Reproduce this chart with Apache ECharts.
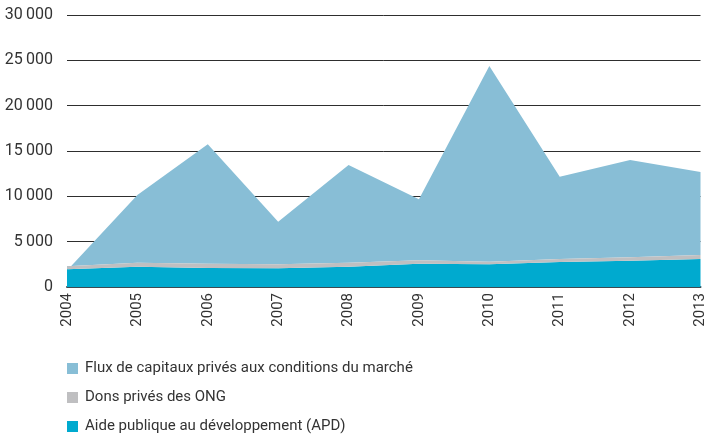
<!DOCTYPE html>
<html>
<head>
<meta charset="utf-8">
<script src="https://cdn.jsdelivr.net/npm/echarts@6/dist/echarts.min.js"></script>
<style>
  html, body { margin: 0; padding: 0; background: #ffffff; }
  #chart { width: 708px; height: 436px; }
</style>
</head>
<body>
<div id="chart"></div>
<script>
const years = ["2004", "2005", "2006", "2007", "2008", "2009", "2010", "2011", "2012", "2013"];
const apd = [1950, 2240, 2100, 2060, 2240, 2570, 2500, 2760, 2900, 3090];
const ong = [330, 440, 470, 440, 440, 370, 290, 330, 370, 440];
const flux = [-450, 7470, 13170, 4700, 10780, 6730, 21590, 9080, 10740, 9160];
const yTicks = [0, 5000, 10000, 15000, 20000, 25000, 30000];

const seriesNames = [
  "Aide publique au développement (APD)",
  "Dons privés des ONG",
  "Flux de capitaux privés aux conditions du marché"
];
const colors = ["#00aacf", "#bfbfc1", "#88bed6"];
const font = "Roboto, 'Open Sans', sans-serif";

function fmt(v) {
  const s = String(v);
  return s.length > 3 ? s.slice(0, -3) + "\u2009" + s.slice(-3) : s;
}

const chart = echarts.init(document.getElementById("chart"));

function area(name, data, color, z) {
  return {
    name,
    type: "line",
    stack: "total",
    stackStrategy: "all",
    data,
    symbol: "none",
    lineStyle: { width: 0 },
    areaStyle: { color, opacity: 1 },
    itemStyle: { color },
    z
  };
}

// one legend per row so they stack like the original
function legendRow(name, top) {
  return {
    orient: "vertical",
    left: 62,
    top,
    itemWidth: 11,
    itemHeight: 11,
    icon: "rect",
    data: [name],
    textStyle: { fontFamily: font, fontSize: 15, color: "#333333", padding: [0, 0, 0, 2] }
  };
}

chart.setOption({
  animation: false,
  backgroundColor: "#ffffff",
  grid: { left: 67, right: 6, top: 15, bottom: 149 },
  legend: [
    legendRow(seriesNames[2], 356),
    legendRow(seriesNames[1], 385),
    legendRow(seriesNames[0], 414)
  ],
  xAxis: {
    type: "category",
    data: years,
    boundaryGap: false,
    axisLine: { lineStyle: { color: "#3c4a52", width: 2 } },
    axisTick: { show: false },
    axisLabel: {
      rotate: 90,
      margin: 6,
      fontFamily: font,
      fontSize: 15,
      color: "#333333",
      interval: 0
    }
  },
  yAxis: {
    type: "value",
    min: 0,
    max: 30000,
    interval: 5000,
    axisLine: { show: false },
    axisTick: { show: false },
    axisLabel: {
      margin: 14,
      fontFamily: font,
      fontSize: 16,
      color: "#333333",
      formatter: v => (yTicks.includes(v) ? fmt(v) : "")
    },
    splitLine: { lineStyle: { color: "#2e2e2e", width: 1 } }
  },
  series: [
    area(seriesNames[0], apd, colors[0], 2),
    area(seriesNames[1], ong, colors[1], 2),
    area(seriesNames[2], flux, colors[2], 1)
  ]
});
</script>
</body>
</html>
